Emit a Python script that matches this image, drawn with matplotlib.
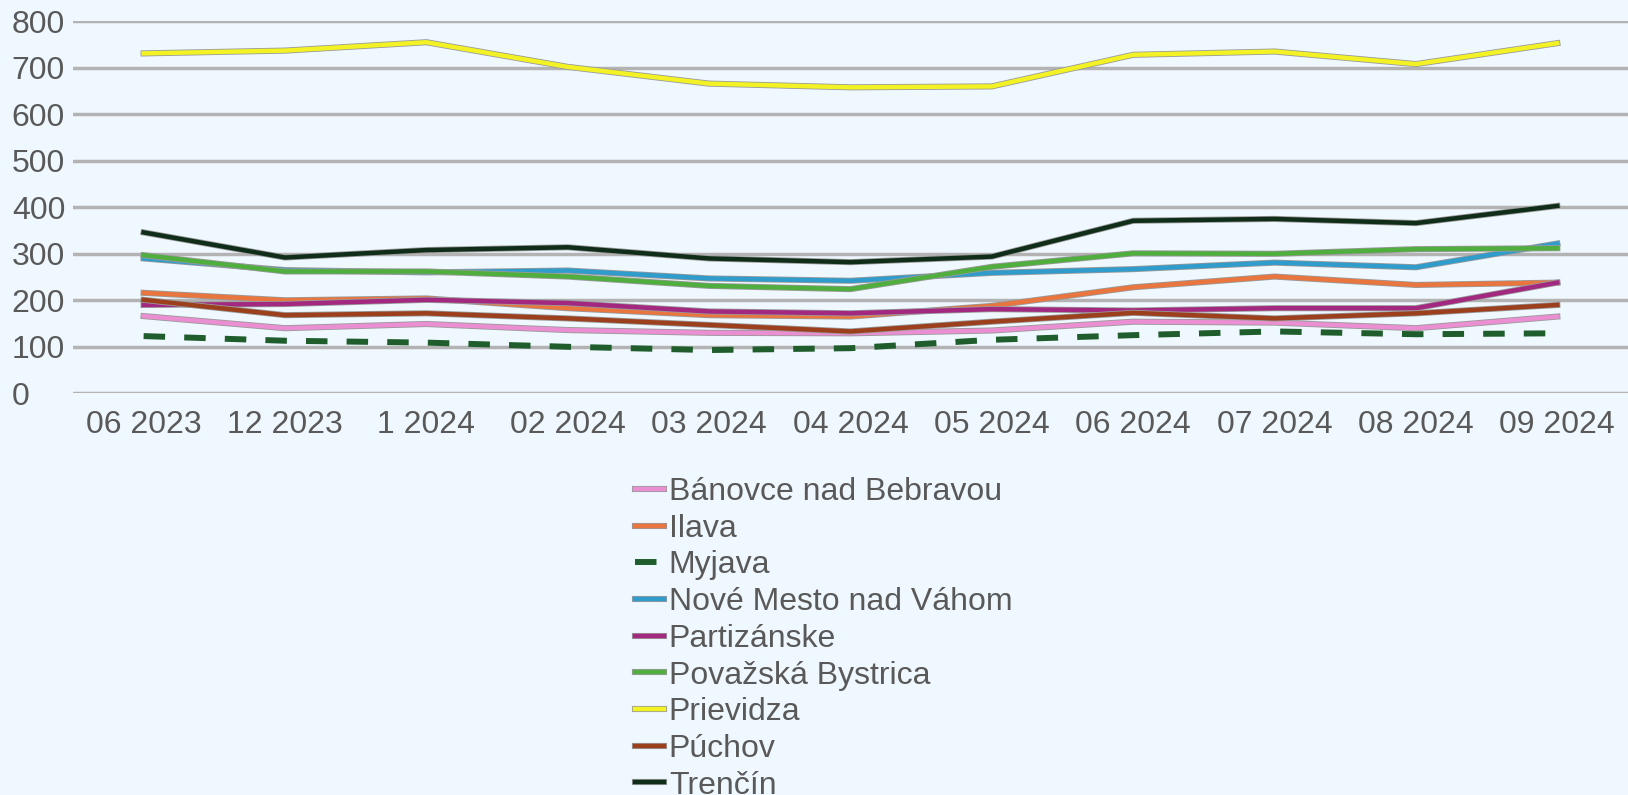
import matplotlib.pyplot as plt
import matplotlib.patheffects as pe

months = ["06 2023", "12 2023", "1 2024", "02 2024", "03 2024", "04 2024",
          "05 2024", "06 2024", "07 2024", "08 2024", "09 2024"]

banovce = [166, 140, 149, 136, 130, 129, 135, 154, 152, 140, 165]
ilava = [216, 200, 204, 183, 168, 165, 188, 228, 251, 233, 238]
myjava = [123, 113, 109, 100, 93, 97, 115, 125, 133, 127, 129]
nove_mesto = [290, 265, 260, 264, 247, 242, 259, 267, 281, 271, 322]
partizanske = [190, 192, 201, 194, 176, 172, 181, 178, 183, 183, 238]
povazska = [297, 262, 262, 251, 231, 224, 272, 301, 300, 310, 312]
prievidza = [731, 737, 755, 702, 666, 658, 660, 728, 735, 708, 753]
puchov = [201, 168, 172, 161, 147, 133, 154, 173, 161, 172, 190]
trencin = [346, 292, 308, 314, 290, 282, 294, 371, 375, 366, 403]

series = [
    ("Bánovce nad Bebravou", banovce, "#e98fd2", "-"),
    ("Ilava", ilava, "#e8763e", "-"),
    ("Myjava", myjava, "#1f5e2c", "--"),
    ("Nové Mesto nad Váhom", nove_mesto, "#2f9ccc", "-"),
    ("Partizánske", partizanske, "#a3287f", "-"),
    ("Považská Bystrica", povazska, "#4fae3e", "-"),
    ("Prievidza", prievidza, "#f2f224", "-"),
    ("Púchov", puchov, "#9c3f1c", "-"),
    ("Trenčín", trencin, "#0f2d18", "-"),
]

bg = "#f0f8ff"
txt = "#595959"
fs = 23
plt.rcParams["font.family"] = ["Liberation Sans", "DejaVu Sans"]

fig = plt.figure(figsize=(16.28, 7.95), dpi=100, facecolor=bg)
ax = fig.add_axes([0.0448, 0.5053, 0.9552, 0.4679])
ax.set_facecolor(bg)

x = list(range(len(months)))
handles = []
for name, vals, col, ls in series:
    if ls == "--":
        line, = ax.plot(x, vals, color=col, lw=4.3, ls=(0, (3.6, 3.2)), label=name)
    else:
        line, = ax.plot(x, vals, color=col, lw=3.2, label=name,
                        path_effects=[pe.Stroke(linewidth=4.4, foreground="#9a9a9a"), pe.Normal()])
    handles.append(line)

ax.set_xlim(-0.5, len(months) - 0.5)
ax.set_ylim(0, 800)
ax.set_yticks(range(0, 801, 100))
ax.set_xticks(x)
ax.set_xticklabels(months)
ax.grid(axis="y", color="#b3b3b3", lw=2.5)
ax.set_axisbelow(True)
for s in ax.spines.values():
    s.set_visible(False)
ax.tick_params(axis="both", length=0, labelsize=fs, labelcolor=txt)
ax.tick_params(axis="x", pad=12)
ax.tick_params(axis="y", pad=44)
for lab in ax.get_yticklabels():
    lab.set_horizontalalignment("left")

fig.legend(handles=handles, loc="upper left", bbox_to_anchor=(0.390, 0.400),
           frameon=False, fontsize=fs, labelcolor=txt, handlelength=0.9,
           handletextpad=0.16, labelspacing=0.21, borderpad=0, borderaxespad=0)

fig.savefig("out.png", dpi=100, facecolor=bg)
